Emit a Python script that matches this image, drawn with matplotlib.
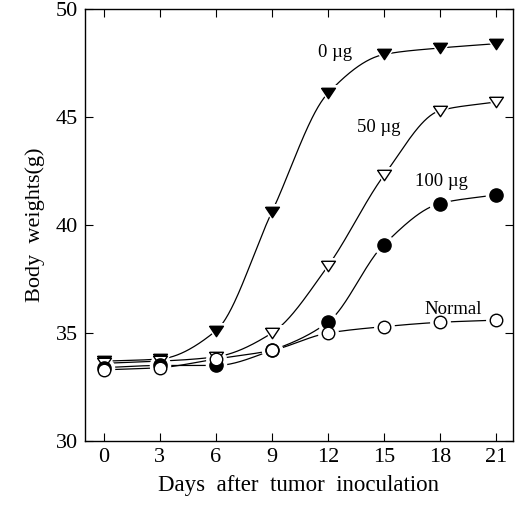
import numpy as np
import matplotlib
matplotlib.use('Agg')
import matplotlib.pyplot as plt

plt.rcParams['font.family'] = ['Liberation Serif', 'DejaVu Serif']

days = [0, 3, 6, 9, 12, 15, 18, 21]
dose_0 = [33.7, 33.8, 35.1, 40.6, 46.1, 47.9, 48.2, 48.4]
dose_50 = [33.6, 33.7, 33.9, 35.0, 38.1, 42.3, 45.3, 45.7]
dose_100 = [33.4, 33.5, 33.5, 34.2, 35.5, 39.1, 41.0, 41.4]
normal = [33.3, 33.4, 33.8, 34.2, 35.0, 35.3, 35.5, 35.6]

labels = ['0 µg', '50 µg', '100 µg', 'Normal']
label_pos = [(12.4, 48.0), (14.7, 44.5), (18.1, 42.0), (18.7, 36.1)]


def pchip(x, y, xs):
    # monotone cubic curve through the measured points
    x = np.asarray(x, float)
    y = np.asarray(y, float)
    h = np.diff(x)
    d = np.diff(y) / h
    m = np.zeros_like(y)
    for k in range(1, len(x) - 1):
        if d[k - 1] * d[k] > 0:
            w1 = 2 * h[k] + h[k - 1]
            w2 = h[k] + 2 * h[k - 1]
            m[k] = (w1 + w2) / (w1 / d[k - 1] + w2 / d[k])
    m[0] = d[0]
    m[-1] = d[-1]
    idx = np.clip(np.searchsorted(x, xs) - 1, 0, len(h) - 1)
    t = (xs - x[idx]) / h[idx]
    h00 = 2 * t**3 - 3 * t**2 + 1
    h10 = t**3 - 2 * t**2 + t
    h01 = -2 * t**3 + 3 * t**2
    h11 = t**3 - t**2
    return (h00 * y[idx] + h10 * h[idx] * m[idx] + h01 * y[idx + 1]
            + h11 * h[idx] * m[idx + 1])


# flat downward triangle, a bit wider than tall
tri = [(-1, 0.75), (1, 0.75), (0, -0.75), (-1, 0.75)]

fig = plt.figure(figsize=(5.18, 5.07), dpi=100)
ax = fig.add_axes([0.164, 0.130, 0.826, 0.852])

series = [
    (dose_0, tri, 'black', 10),
    (dose_50, tri, 'white', 10),
    (dose_100, 'o', 'black', 9.5),
    (normal, 'o', 'white', 9),
]

xs = np.linspace(0, 21, 400)
for vals, mk, fc, ms in series:
    ax.plot(xs, pchip(days, vals, xs), color='black', lw=0.9, zorder=2)
for vals, mk, fc, ms in series:
    ax.plot(days, vals, ls='none', marker=mk, ms=ms + 5, mfc='white',
            mec='white', zorder=3)
for vals, mk, fc, ms in series:
    ax.plot(days, vals, ls='none', marker=mk, ms=ms, mfc=fc,
            mec='black', mew=1.0, zorder=4)

for txt, (lx, ly) in zip(labels, label_pos):
    ax.text(lx, ly, txt, ha='center', va='center', fontsize=13.5)

ax.set_xlim(-1, 21.9)
ax.set_ylim(30, 50)
ax.set_xticks(days)
ax.set_yticks([30, 35, 40, 45, 50])
ax.tick_params(direction='in', top=True, right=True, length=6,
               labelsize=16, pad=5)
ax.set_xlabel('Days  after  tumor  inoculation', fontsize=16.5, labelpad=6)
ax.set_ylabel('Body  weights(g)', fontsize=16, labelpad=8)
for s in ax.spines.values():
    s.set_linewidth(1.0)

fig.savefig('out.png', dpi=100)
